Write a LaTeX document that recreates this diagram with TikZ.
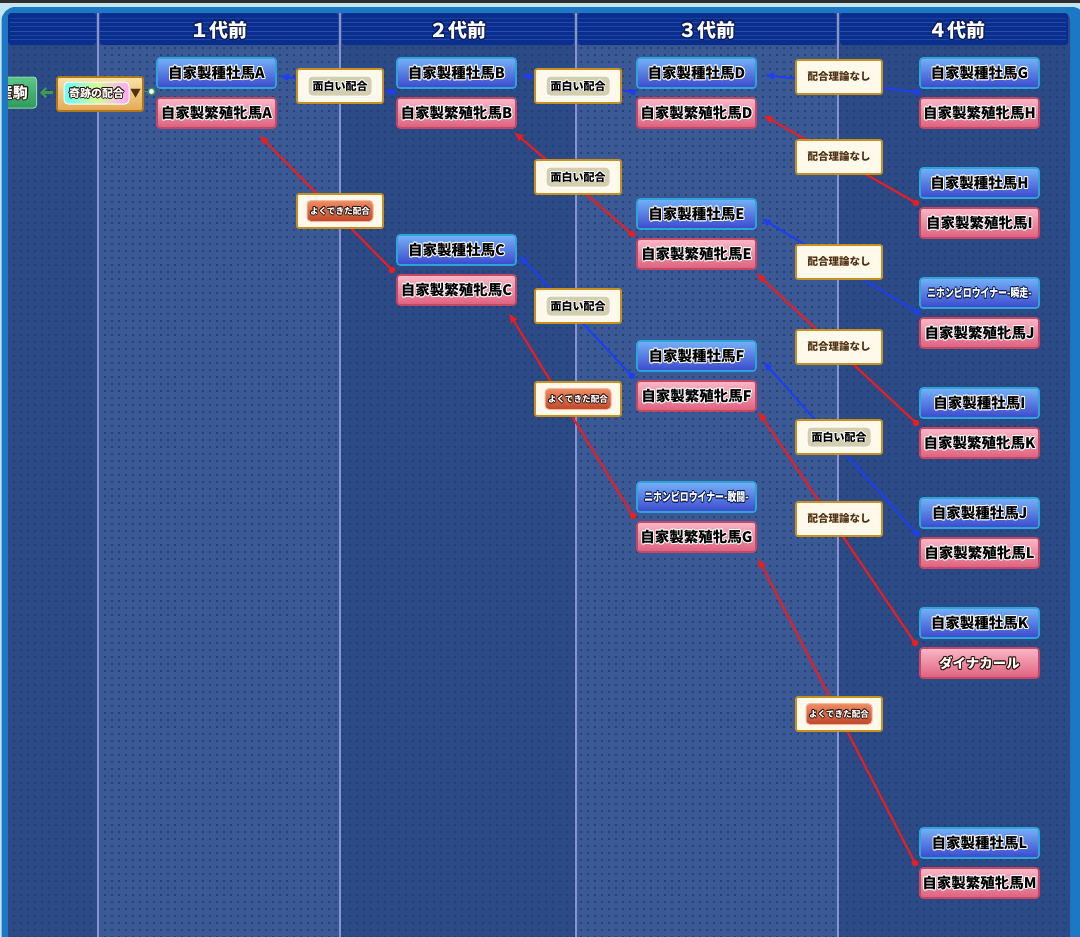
\documentclass[tikz,border=0pt]{standalone}
\usepackage{fontspec}
\usepackage{graphicx}
\newfontfamily\jp{Noto Sans CJK JP}
\usetikzlibrary{arrows.meta,patterns.meta,calc}
\definecolor{bgcyan}{HTML}{C4E4F0}
\definecolor{topgray}{HTML}{2E2E2E}
\definecolor{framebl}{HTML}{1C78C4}
\definecolor{hdr}{HTML}{0B2E8C}
\definecolor{hdrln}{HTML}{2453B8}
\definecolor{cdark}{HTML}{2C4A85}
\definecolor{clight}{HTML}{3B5A95}
\definecolor{dotc}{HTML}{203B70}
\definecolor{sepc}{HTML}{8594D4}
\definecolor{stalT}{HTML}{74B0F6}
\definecolor{stalBo}{HTML}{3B48CC}
\definecolor{stalD}{HTML}{2CA4DA}
\definecolor{mareT}{HTML}{FAB8C6}
\definecolor{mareBo}{HTML}{DE5F7E}
\definecolor{mareD}{HTML}{C24866}
\definecolor{gold}{HTML}{C8901C}
\definecolor{cream}{HTML}{FFF9EC}
\definecolor{khaki}{HTML}{D3CFAE}
\definecolor{orT}{HTML}{EE8C64}
\definecolor{orB}{HTML}{BE4628}
\definecolor{brownT}{HTML}{50300F}
\definecolor{darkO}{HTML}{2A1208}
\definecolor{navyO}{HTML}{0A1A55}
\definecolor{linkb}{HTML}{1E3EF2}
\definecolor{linkr}{HTML}{F01C1C}
\definecolor{kisT}{HTML}{FBE3A6}
\definecolor{kisB}{HTML}{E3A955}
\definecolor{kisD}{HTML}{B07818}
\definecolor{greenT}{HTML}{5CC587}
\definecolor{greenB}{HTML}{2F9A5C}
\definecolor{greenA}{HTML}{3E9A4E}
\newlength\olw
\newcommand\olt[4][0.9pt]{{\setlength\olw{#1}\setbox0\hbox{#4}%
\rlap{\color{#2}\kern-\olw\copy0}%
\rlap{\color{#2}\kern\olw\copy0}%
\rlap{\color{#2}\raise\olw\copy0}%
\rlap{\color{#2}\lower\olw\copy0}%
\rlap{\color{#2}\kern-.7\olw\raise.7\olw\copy0}%
\rlap{\color{#2}\kern.7\olw\raise.7\olw\copy0}%
\rlap{\color{#2}\kern-.7\olw\lower.7\olw\copy0}%
\rlap{\color{#2}\kern.7\olw\lower.7\olw\copy0}%
{\color{#3}\copy0}}}
\tikzset{
 horse/.style={rectangle, rounded corners=3pt, minimum width=119pt, minimum height=30pt, inner sep=0pt, line width=1.6pt, font=\jp\bfseries\fontsize{14.5}{16}\selectfont},
 stal/.style={horse, draw=stalD, top color=stalT, bottom color=stalBo},
 mare/.style={horse, draw=mareD, top color=mareT, bottom color=mareBo},
 lab/.style={rectangle, rounded corners=2pt, draw=gold, line width=1.8pt, fill=cream, minimum width=86pt, minimum height=34pt, inner sep=0pt},
 labn/.style={lab, text=brownT, font=\jp\bfseries\fontsize{10.5}{12}\selectfont},
 pillg/.style={rectangle, rounded corners=4pt, fill=khaki, draw=white, line width=1pt, minimum width=64pt, minimum height=20pt, inner sep=0pt, font=\jp\bfseries\fontsize{11}{12}\selectfont},
 pillo/.style={rectangle, rounded corners=4pt, top color=orT, bottom color=orB, draw=orT!60!white, line width=1pt, minimum width=66pt, minimum height=21pt, inner sep=0pt, font=\jp\bfseries\fontsize{8.6}{10}\selectfont},
 hdrtext/.style={inner sep=0pt, font=\jp\bfseries\fontsize{19}{20}\selectfont},
 pdotb/.style={circle, fill=linkb, inner sep=0pt, minimum size=6.5pt},
 pdotr/.style={circle, fill=linkr, inner sep=0pt, minimum size=6.5pt},
 linkblue/.style={draw=linkb, line width=2pt, -{Latex[length=10pt,width=8pt]}},
 linkred/.style={draw=linkr, line width=2pt, -{Latex[length=10pt,width=8pt]}}
}
\begin{document}
\begin{tikzpicture}[x=1pt,y=-1pt]
\useasboundingbox (0,0) rectangle (1080,937);
\clip (0,0) rectangle (1080,937);
% background and frame
\fill[bgcyan] (0,0) rectangle (1080,937);
\fill[topgray] (0,0) rectangle (1080,2.5);
\fill[framebl, rounded corners=14pt] (1.5,7) rectangle (1086,980);
\fill[cdark, rounded corners=7pt] (8,13) rectangle (1070,980);
\fill[clight] (98,45) rectangle (340,937);
\fill[clight] (576,45) rectangle (838,937);
\fill[pattern={Dots[distance=7pt,radius=1.2pt]}, pattern color=dotc] (8,45) rectangle (1070,937);
% header
\fill[hdr, rounded corners=3pt] (8,13) rectangle (96,45);
\fill[hdr, rounded corners=3pt] (100,13) rectangle (338,45);
\fill[hdr, rounded corners=3pt] (342,13) rectangle (574,45);
\fill[hdr, rounded corners=3pt] (578,13) rectangle (836,45);
\fill[hdr, rounded corners=3pt] (840,13) rectangle (1068,45);
\foreach \yy/\op in {18/0.5,22/0.8,26/0.6,31/0.9,35/0.6,39/0.8} {
  \draw[hdrln, line width=0.8pt, opacity=\op] (10,\yy) -- (1066,\yy);
}
\foreach \xx in {98,340,576,838} { \draw[sepc, line width=1.8pt] (\xx,13) -- (\xx,937); }
\node[hdrtext] (h1) at (219,30) {\olt[1.4pt]{navyO}{white}{１代前}};
\node[hdrtext] (h2) at (458,30) {\olt[1.4pt]{navyO}{white}{２代前}};
\node[hdrtext] (h3) at (707,30) {\olt[1.4pt]{navyO}{white}{３代前}};
\node[hdrtext] (h4) at (957,30) {\olt[1.4pt]{navyO}{white}{４代前}};
% horses
\node[stal] (stalA) at (216.5,73) {\olt{white}{black}{自家製種牡馬A}};
\node[mare] (mareA) at (216.5,113) {\olt{white}{black}{自家製繁殖牝馬A}};
\node[stal] (stalB) at (456.5,73) {\olt{white}{black}{自家製種牡馬B}};
\node[mare] (mareB) at (456.5,113) {\olt{white}{black}{自家製繁殖牝馬B}};
\node[stal] (stalC) at (456.5,250) {\olt{white}{black}{自家製種牡馬C}};
\node[mare] (mareC) at (456.5,290) {\olt{white}{black}{自家製繁殖牝馬C}};
\node[stal] (stalD) at (696.5,73) {\olt{white}{black}{自家製種牡馬D}};
\node[mare] (mareD) at (696.5,113) {\olt{white}{black}{自家製繁殖牝馬D}};
\node[stal] (stalE) at (696.5,214) {\olt{white}{black}{自家製種牡馬E}};
\node[mare] (mareE) at (696.5,254) {\olt{white}{black}{自家製繁殖牝馬E}};
\node[stal] (stalF) at (696.5,356) {\olt{white}{black}{自家製種牡馬F}};
\node[mare] (mareF) at (696.5,396) {\olt{white}{black}{自家製繁殖牝馬F}};
\node[stal, font=\jp\bfseries\fontsize{12}{13}\selectfont] (nihonG) at (696.5,497) {\scalebox{0.74}[1]{\olt[0.9pt]{navyO}{white}{ニホンピロウイナー-敢闘-}}};
\node[mare] (mareG) at (696.5,537) {\olt{white}{black}{自家製繁殖牝馬G}};
\node[stal] (stalG) at (979.5,73) {\olt{white}{black}{自家製種牡馬G}};
\node[mare] (mareH) at (979.5,113) {\olt{white}{black}{自家製繁殖牝馬H}};
\node[stal] (stalH) at (979.5,183) {\olt{white}{black}{自家製種牡馬H}};
\node[mare] (mareI) at (979.5,223) {\olt{white}{black}{自家製繁殖牝馬I}};
\node[stal, font=\jp\bfseries\fontsize{12}{13}\selectfont] (nihonS) at (979.5,293) {\scalebox{0.74}[1]{\olt[0.9pt]{navyO}{white}{ニホンピロウイナー-瞬走-}}};
\node[mare] (mareJ) at (979.5,333) {\olt{white}{black}{自家製繁殖牝馬J}};
\node[stal] (stalI) at (979.5,403) {\olt{white}{black}{自家製種牡馬I}};
\node[mare] (mareK) at (979.5,443) {\olt{white}{black}{自家製繁殖牝馬K}};
\node[stal] (stalJ) at (979.5,513) {\olt{white}{black}{自家製種牡馬J}};
\node[mare] (mareL) at (979.5,553) {\olt{white}{black}{自家製繁殖牝馬L}};
\node[stal] (stalK) at (979.5,623) {\olt{white}{black}{自家製種牡馬K}};
\node[mare, font=\jp\bfseries\fontsize{13.5}{15}\selectfont] (dyna) at (979.5,663) {\olt[1.1pt]{darkO}{white}{ダイナカール}};
\node[stal] (stalL) at (979.5,843) {\olt{white}{black}{自家製種牡馬L}};
\node[mare] (mareM) at (979.5,883) {\olt{white}{black}{自家製繁殖牝馬M}};
% pair points
\coordinate (pB) at (392,92);
\coordinate (pC) at (392,270);
\coordinate (pD) at (633,92);
\coordinate (pE) at (632,234);
\coordinate (pF) at (632,376);
\coordinate (pG) at (633,516);
\coordinate (pGG) at (917,92);
\coordinate (pHI) at (916,203);
\coordinate (pSJ) at (917,312);
\coordinate (pIK) at (916,423);
\coordinate (pJL) at (916,533);
\coordinate (pKD) at (915,643);
\coordinate (pLM) at (915,863);
% connectors
\draw[linkblue] (pB) -- ([shift={(2,3)}]stalA.east);
\draw[linkred] (pC) -- ([shift={(-18,6)}]mareA.south east);
\draw[linkblue] (pD) -- ([shift={(4,2)}]stalB.east);
\draw[linkred] (pE) -- ([shift={(-3,3)}]mareB.south east);
\draw[linkblue] (pF) -- ([shift={(2,5)}]stalC.east);
\draw[linkred] (pG) -- ([shift={(-8,7)}]mareC.south east);
\draw[linkblue] (pGG) -- ([shift={(7,2)}]stalD.east);
\draw[linkred] (pHI) -- ([shift={(6,2)}]mareD.east);
\draw[linkblue] (pSJ) -- ([shift={(4,4)}]stalE.east);
\draw[linkred] (pIK) -- ([shift={(-1,3)}]mareE.south east);
\draw[linkblue] (pJL) -- ([shift={(6,5)}]stalF.east);
\draw[linkred] (pKD) -- ([shift={(1,-1)}]mareF.south east);
\draw[linkred] (pLM) -- ([shift={(1,5)}]mareG.south east);
\foreach \p in {pB,pD,pF,pGG,pSJ,pJL} { \node[pdotb] at (\p) {}; }
\foreach \p in {pC,pE,pG,pHI,pIK,pKD,pLM} { \node[pdotr] at (\p) {}; }
% labels
\node[lab] (L1) at (340,86) {};
\node[pillg] at (L1) {\olt[0.8pt]{white}{black}{面白い配合}};
\node[lab] (L2) at (578,86) {};
\node[pillg] at (L2) {\olt[0.8pt]{white}{black}{面白い配合}};
\node[labn] (L3) at (839,77) {配合理論なし};
\node[labn] (L4) at (839,157) {配合理論なし};
\node[lab] (L5) at (578,177) {};
\node[pillg] at (L5) {\olt[0.8pt]{white}{black}{面白い配合}};
\node[lab] (L6) at (340,211) {};
\node[pillo] at (L6) {\olt[0.8pt]{darkO}{white}{よくできた配合}};
\node[labn] (L7) at (839,262) {配合理論なし};
\node[lab] (L8) at (578,306) {};
\node[pillg] at (L8) {\olt[0.8pt]{white}{black}{面白い配合}};
\node[labn] (L9) at (839,347) {配合理論なし};
\node[lab] (L10) at (578,399) {};
\node[pillo] at (L10) {\olt[0.8pt]{darkO}{white}{よくできた配合}};
\node[lab] (L11) at (839,437) {};
\node[pillg] at (L11) {\olt[0.8pt]{white}{black}{面白い配合}};
\node[labn] (L12) at (839,519) {配合理論なし};
\node[lab] (L13) at (839,714) {};
\node[pillo] at (L13) {\olt[0.8pt]{darkO}{white}{よくできた配合}};
% offspring and miracle box
\begin{scope}
\clip (8,13) rectangle (60,937);
\node[rectangle, rounded corners=3pt, draw=greenT!70!white, line width=1pt, top color=greenT, bottom color=greenB, minimum width=47pt, minimum height=31pt, inner sep=0pt, font=\jp\bfseries\fontsize{15}{16}\selectfont] (sanku) at (13,92.5) {\olt[1.1pt]{darkO}{white}{産駒}};
\end{scope}
\node[rectangle, rounded corners=2pt, draw=kisD, line width=1.8pt, top color=kisT, bottom color=kisB, minimum width=86pt, minimum height=34pt, inner sep=0pt] (kis) at (100,94) {};
\node[rectangle, rounded corners=4pt, draw=white, line width=1pt, left color=cyan!60, right color=magenta!35, middle color=yellow!55!green!40, minimum width=65pt, minimum height=22pt, inner sep=0pt, font=\jp\bfseries\fontsize{11}{12}\selectfont] (kisp) at (96.5,93) {\olt[0.9pt]{darkO}{white}{奇跡の配合}};
\node[inner sep=0pt, text=brownT, font=\jp\fontsize{11}{12}\selectfont] (kistri) at (135.5,94) {▼};
\node[circle, draw=greenA, fill=white, line width=1.2pt, inner sep=0pt, minimum size=6.5pt] (kd) at (151.5,91.5) {};
\draw[greenA, line width=1.5pt] (kis.east |- kd) -- (kd);
\draw[greenA, line width=2.2pt, shorten <=3pt, shorten >=3pt, -{Straight Barb[length=4.5pt,width=9pt]}] (kis.west |- sanku) -- (sanku.east);
\end{tikzpicture}
\end{document}
